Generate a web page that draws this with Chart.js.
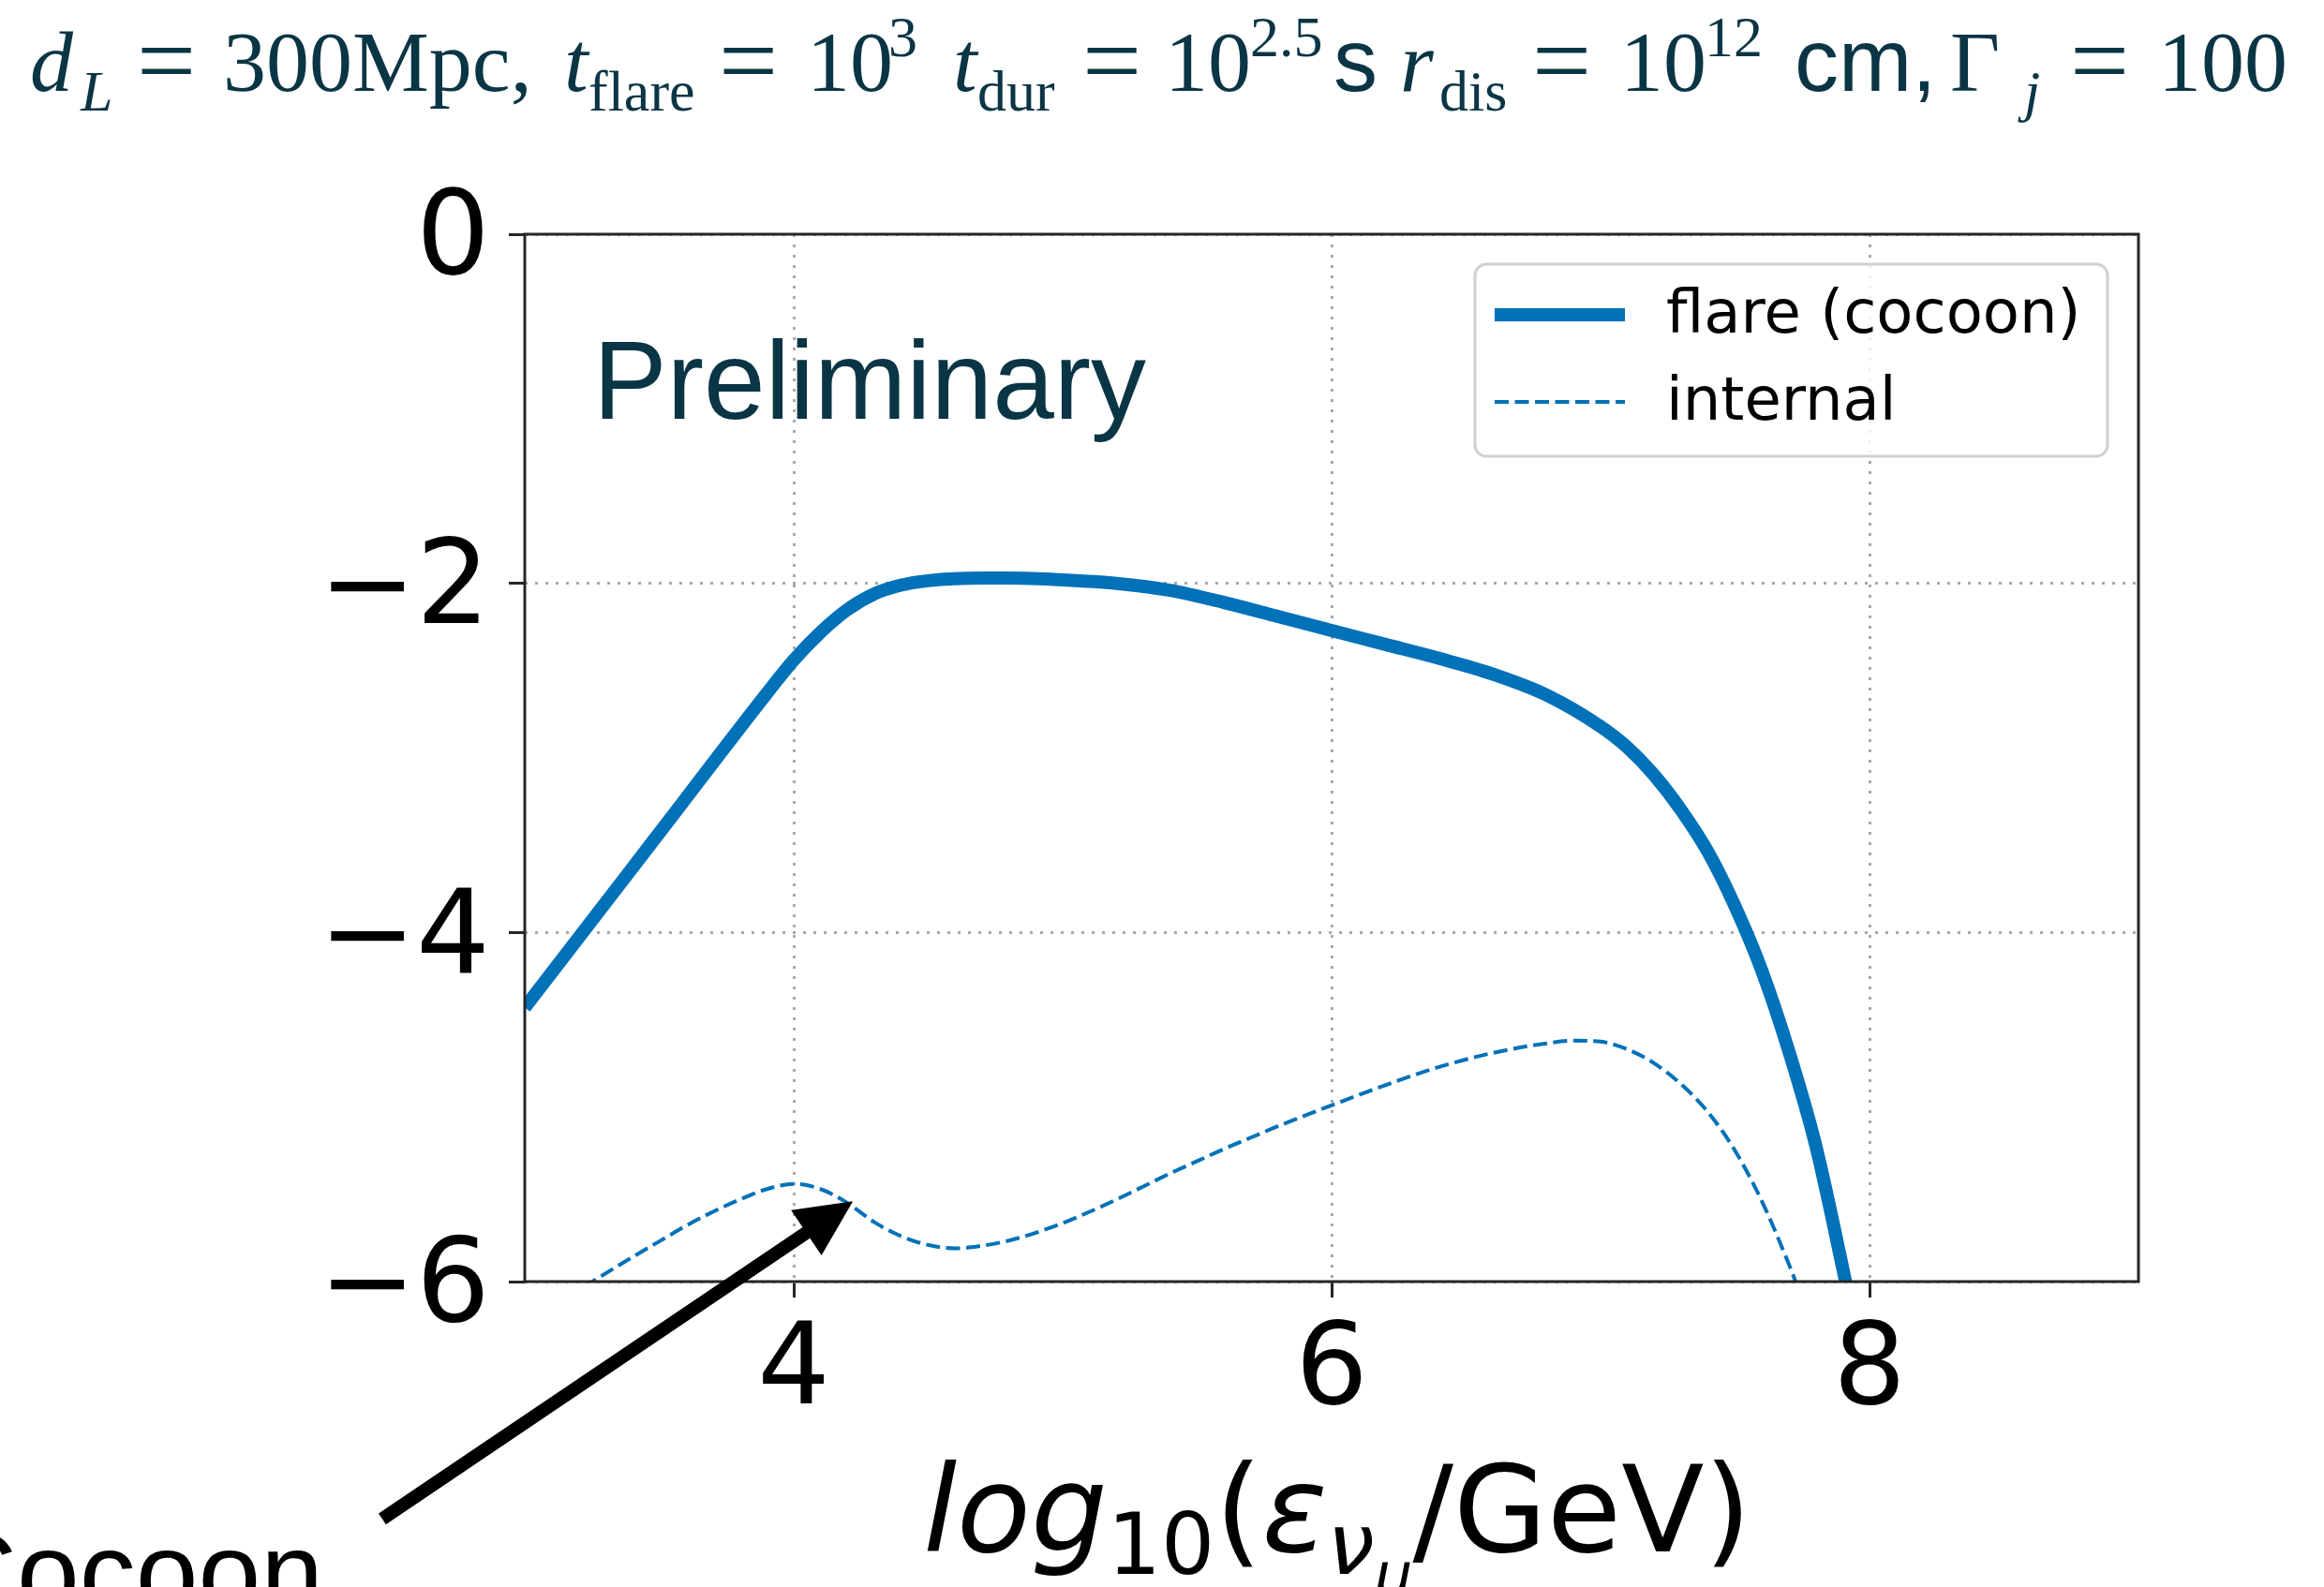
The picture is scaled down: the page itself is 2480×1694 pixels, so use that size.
<!DOCTYPE html>
<html>
<head>
<meta charset="utf-8">
<script src="https://cdn.jsdelivr.net/npm/chart.js@4.4.0/dist/chart.umd.min.js"></script>
<style>
  html, body { margin: 0; padding: 0; background: #ffffff; }
</style>
</head>
<body>
<canvas id="chart" width="2480" height="1694"></canvas>
<script>
    // flare (cocoon) curve
    const flareX = [3.0, 3.5, 3.9, 4.0, 4.1, 4.2, 4.3, 4.4, 4.5, 4.7, 4.8, 5.0, 5.2, 5.4, 5.6, 5.8, 6.0, 6.2, 6.4, 6.6, 6.8, 7.0, 7.1, 7.2, 7.3, 7.4, 7.5, 7.6, 7.7, 7.8, 7.9, 8.0];
    const flareY = [-4.43, -3.43, -2.63, -2.44, -2.28, -2.15, -2.06, -2.01, -1.985, -1.97, -1.97, -1.98, -2.00, -2.04, -2.11, -2.19, -2.27, -2.35, -2.43, -2.52, -2.64, -2.82, -2.94, -3.10, -3.30, -3.54, -3.85, -4.22, -4.68, -5.22, -5.92, -6.66];

    // internal curve
    const internalX = [3.22, 3.4, 3.5, 3.6, 3.7, 3.8, 3.9, 4.0, 4.1, 4.2, 4.3, 4.4, 4.5, 4.6, 4.7, 4.8, 4.9, 5.0, 5.1, 5.2, 5.3, 5.4, 5.5, 5.6, 5.7, 5.8, 5.9, 6.0, 6.2, 6.4, 6.6, 6.8, 6.9, 7.0, 7.1, 7.2, 7.3, 7.4, 7.5, 7.6, 7.7, 7.75];
    const internalY = [-6.03, -5.86, -5.77, -5.68, -5.60, -5.53, -5.47, -5.44, -5.47, -5.55, -5.66, -5.74, -5.79, -5.81, -5.795, -5.765, -5.72, -5.665, -5.60, -5.53, -5.455, -5.38, -5.31, -5.24, -5.175, -5.11, -5.05, -4.99, -4.875, -4.77, -4.69, -4.635, -4.62, -4.625, -4.67, -4.75, -4.87, -5.03, -5.25, -5.54, -5.90, -6.10];

    const seriesLabels = ['flare (cocoon)', 'internal'];
    const xTicks = [4, 6, 8];
    const yTicks = [0, -2, -4, -6];
    const xRange = [3, 9];
    const yRange = [-6, 0];

    // arrow annotation (data coords): tail -> tip
    const arrowTail = [2.47, -7.36];
    const arrowTip = [4.22, -5.54];

    const blue = '#0171b8';
    const ink = '#0a3545';
    const axisColor = '#262626';

    function toPoints(xs, ys) {
        return xs.map((x, i) => ({ x: x, y: ys[i] }));
    }

    // draw a run of text pieces with their own font and vertical shift
    function drawRich(ctx, x, y, parts) {
        for (const p of parts) {
            ctx.font = p.f;
            ctx.fillText(p.t, x, y + (p.dy || 0));
            x += ctx.measureText(p.t).width;
        }
        return x;
    }
    function richWidth(ctx, parts) {
        let w = 0;
        for (const p of parts) { ctx.font = p.f; w += ctx.measureText(p.t).width; }
        return w;
    }

    const serif = '"Liberation Serif", "DejaVu Serif", serif';
    const S = '92px ' + serif;
    const SI = 'italic 92px ' + serif;
    const EQ = '112px ' + serif;
    const SUB = '62px ' + serif;
    const SUBI = 'italic 62px ' + serif;
    const SANS = '94px "Liberation Sans", Arial, sans-serif';
    // title pieces placed where they sit in the original
    const titleParts = [
        { t: 'd', f: SI, x: 32 }, { t: 'L', f: SUBI, x: 86, dy: 21 }, { t: '=', f: EQ, x: 146, dy: 5 },
        { t: '300Mpc,', f: S, x: 238 },
        { t: 't', f: SI, x: 602 }, { t: 'flare', f: SUB, x: 628, dy: 21 }, { t: '=', f: EQ, x: 767, dy: 5 },
        { t: '10', f: S, x: 861 }, { t: '3', f: SUB, x: 948, dy: -37 },
        { t: 't', f: SI, x: 1017 }, { t: 'dur', f: SUB, x: 1043, dy: 21 }, { t: '=', f: EQ, x: 1155, dy: 5 },
        { t: '10', f: S, x: 1243 }, { t: '2.5', f: SUB, x: 1334, dy: -37 }, { t: 's', f: SANS, x: 1423 },
        { t: 'r', f: SI, x: 1494 }, { t: 'dis', f: SUB, x: 1536, dy: 21 }, { t: '=', f: EQ, x: 1635, dy: 5 },
        { t: '10', f: S, x: 1729 }, { t: '12', f: SUB, x: 1819, dy: -37 }, { t: 'cm,', f: SANS, x: 1915 },
        { t: '\u0393', f: S, x: 2081 }, { t: 'j', f: SUBI, x: 2160, dy: 21 }, { t: '=', f: EQ, x: 2209, dy: 5 },
        { t: '100', f: S, x: 2303 }
    ];

    const dv = '"DejaVu Sans", sans-serif';
    const xLabelParts = [
        { t: 'log', f: 'italic 129px ' + dv },
        { t: '10', f: '90px ' + dv, dy: 24 },
        { t: '(', f: '129px ' + dv },
        { t: '\u03b5', f: 'italic 129px ' + dv },
        { t: '\u03bd', f: 'italic 90px ' + dv, dy: 24 },
        { t: '\u03bc', f: 'italic 64px ' + dv, dy: 47 },
        { t: '/GeV)', f: '129px ' + dv }
    ];

    const decorPlugin = {
        id: 'decor',
        afterDatasetsDraw(chart) {
            const ctx = chart.ctx;
            const a = chart.chartArea;
            const xs = chart.scales.x, ys = chart.scales.y;
            ctx.save();

            // axes frame
            ctx.strokeStyle = axisColor;
            ctx.lineWidth = 3;
            ctx.strokeRect(a.left, a.top, a.right - a.left, a.bottom - a.top);

            // Preliminary
            ctx.fillStyle = ink;
            ctx.font = '118px "Liberation Sans", Arial, sans-serif';
            ctx.textBaseline = 'alphabetic';
            ctx.textAlign = 'left';
            ctx.fillText('Preliminary', 633, 447);

            // legend
            const lx = 1574, ly = 282, lw = 675, lh = 205, r = 12;
            ctx.beginPath();
            ctx.moveTo(lx + r, ly);
            ctx.arcTo(lx + lw, ly, lx + lw, ly + lh, r);
            ctx.arcTo(lx + lw, ly + lh, lx, ly + lh, r);
            ctx.arcTo(lx, ly + lh, lx, ly, r);
            ctx.arcTo(lx, ly, lx + lw, ly, r);
            ctx.closePath();
            ctx.fillStyle = 'rgba(255,255,255,0.8)';
            ctx.fill();
            ctx.strokeStyle = '#d0d0d0';
            ctx.lineWidth = 3;
            ctx.stroke();

            const rows = [336, 429];
            chart.data.datasets.forEach((ds, i) => {
                ctx.strokeStyle = ds.borderColor;
                ctx.lineWidth = ds.borderWidth;
                ctx.setLineDash(ds.borderDash || []);
                ctx.beginPath();
                ctx.moveTo(1595, rows[i]);
                ctx.lineTo(1734, rows[i]);
                ctx.stroke();
                ctx.setLineDash([]);
                ctx.fillStyle = '#000000';
                ctx.font = '64px ' + dv;
                ctx.textBaseline = 'middle';
                ctx.fillText(ds.label, 1778, rows[i] + 2);
            });

            // title
            ctx.fillStyle = ink;
            ctx.textBaseline = 'alphabetic';
            for (const p of titleParts) {
                ctx.font = p.f;
                ctx.fillText(p.t, p.x, 97 + (p.dy || 0));
            }

            // x axis label
            ctx.fillStyle = '#000000';
            const w = richWidth(ctx, xLabelParts);
            drawRich(ctx, (a.left + a.right) / 2 - w / 2 + 6, 1656, xLabelParts);

            // arrow and "Cocoon"
            const x0 = xs.getPixelForValue(arrowTail[0]), y0 = ys.getPixelForValue(arrowTail[1]);
            const x1 = xs.getPixelForValue(arrowTip[0]), y1 = ys.getPixelForValue(arrowTip[1]);
            const len = Math.hypot(x1 - x0, y1 - y0);
            const ux = (x1 - x0) / len, uy = (y1 - y0) / len;
            const hl = 60, hw = 29;
            const bx = x1 - ux * hl, by = y1 - uy * hl;
            ctx.strokeStyle = '#000000';
            ctx.lineWidth = 14;
            ctx.beginPath();
            ctx.moveTo(x0, y0);
            ctx.lineTo(bx + ux * 4, by + uy * 4);
            ctx.stroke();
            ctx.fillStyle = '#000000';
            ctx.beginPath();
            ctx.moveTo(x1, y1);
            ctx.lineTo(bx - uy * hw, by + ux * hw);
            ctx.lineTo(bx + uy * hw, by - ux * hw);
            ctx.closePath();
            ctx.fill();

            ctx.font = '120px "Liberation Sans", Arial, sans-serif';
            ctx.textAlign = 'right';
            ctx.fillText('Cocoon', 345, 1720);
            ctx.restore();
        }
    };

    const ctx = document.getElementById('chart').getContext('2d');
    new Chart(ctx, {
        type: 'line',
        data: {
            datasets: [{
                label: seriesLabels[0],
                data: toPoints(flareX, flareY),
                borderColor: blue,
                borderWidth: 14,
                pointRadius: 0,
                cubicInterpolationMode: 'monotone',
                clip: 0
            }, {
                label: seriesLabels[1],
                data: toPoints(internalX, internalY),
                borderColor: blue,
                borderWidth: 4,
                borderDash: [15, 6.5],
                pointRadius: 0,
                cubicInterpolationMode: 'monotone',
                clip: 0
            }]
        },
        options: {
            responsive: false,
            devicePixelRatio: 1,
            animation: false,
            layout: { padding: { left: 0, top: 250, right: 198, bottom: 0 } },
            plugins: {
                legend: { display: false },
                title: { display: false },
                tooltip: { enabled: false }
            },
            scales: {
                x: {
                    type: 'linear',
                    min: xRange[0],
                    max: xRange[1],
                    afterBuildTicks: (scale) => { scale.ticks = xTicks.map(v => ({ value: v })); },
                    afterFit: (scale) => { scale.height = 326; },
                    grid: {
                        color: '#a8a8a8',
                        lineWidth: 3,
                        tickLength: 17,
                        tickColor: axisColor,
                        tickWidth: 3
                    },
                    border: { display: false, dash: [3, 8] },
                    ticks: {
                        color: '#000000',
                        font: { family: 'DejaVu Sans', size: 122 },
                        padding: 8,
                        maxRotation: 0
                    }
                },
                y: {
                    type: 'linear',
                    min: yRange[0],
                    max: yRange[1],
                    afterBuildTicks: (scale) => { scale.ticks = yTicks.map(v => ({ value: v })); },
                    afterFit: (scale) => { scale.width = 560; },
                    grid: {
                        color: '#a8a8a8',
                        lineWidth: 3,
                        tickLength: 17,
                        tickColor: axisColor,
                        tickWidth: 3
                    },
                    border: { display: false, dash: [3, 8] },
                    ticks: {
                        color: '#000000',
                        font: { family: 'DejaVu Sans', size: 124 },
                        padding: 20,
                        labelOffset: 10,
                        callback: (v) => String(v).replace('-', '\u2212')
                    }
                }
            }
        },
        plugins: [decorPlugin]
    });
</script>
</body>
</html>
